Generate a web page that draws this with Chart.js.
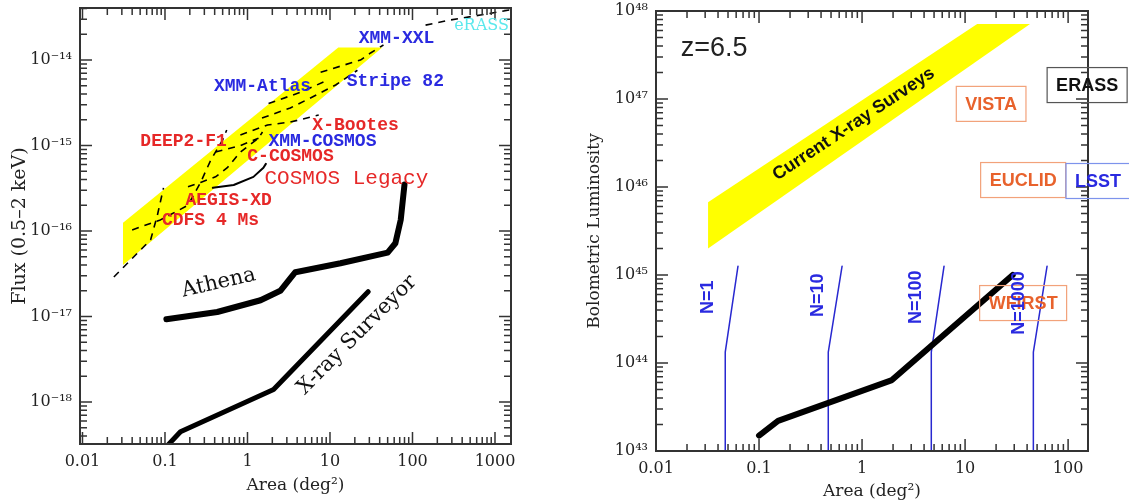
<!DOCTYPE html>
<html>
<head>
<meta charset="utf-8">
<script src="https://cdn.jsdelivr.net/npm/chart.js@4.4.1/dist/chart.umd.min.js"></script>
<style>
  body { margin: 0; background: #fff; }
  #wrap { position: relative; width: 1129px; height: 502px; }
  .panel { position: absolute; top: 0; height: 502px; }
  #left { left: 0; width: 540px; }
  #right { left: 560px; width: 569px; }
</style>
</head>
<body>
<div id="wrap">
  <div class="panel" id="left"><canvas id="fluxChart"></canvas></div>
  <div class="panel" id="right"><canvas id="lumChart"></canvas></div>
</div>
<script>
// ---------- left panel: flux limit (0.5-2 keV) vs area ----------
const currentSurveysBand = [[0.031, 4e-17], [0.031, 1.25e-16], [12.6, 1.4e-14], [43, 1.4e-14], [0.031, 4e-17]];

const athenaCurve = [[0.104, 9.3e-18], [0.43, 1.13e-17], [1.44, 1.55e-17], [2.5, 2.0e-17], [3.3, 2.8e-17],
  [3.8, 3.3e-17], [13.4, 4.2e-17], [50, 5.6e-17], [62, 7.2e-17], [72, 1.35e-16], [80, 3.5e-16]];
const surveyorCurve = [[0.104, 3.0e-19], [0.154, 4.5e-19], [1.75, 1.3e-18], [2.07, 1.4e-18], [29, 1.95e-17]];
const cosmosLegacyCurve = [[0.38, 3.2e-16], [0.68, 3.45e-16], [1.18, 4.3e-16], [1.56, 5.5e-16], [1.67, 6.1e-16]];

// dashed survey sensitivity curves
const cdfsCurve = [[0.024, 2.9e-17], [0.067, 7.9e-17], [0.081, 1.54e-16], [0.096, 3.2e-16]];
const deep2Curve = [[0.040, 1.03e-16], [0.088, 1.35e-16], [0.19, 2.0e-16], [0.27, 3.7e-16], [0.36, 6.8e-16], [0.50, 1.16e-15], [0.56, 1.52e-15]];
const cCosmosCurve = [[0.19, 3.3e-16], [0.27, 3.7e-16], [0.41, 4.3e-16], [0.57, 5.5e-16], [0.82, 8.4e-16], [1.36, 1.22e-15], [1.52, 1.44e-15]];
const xmmCosmosCurve = [[0.41, 8.4e-16], [0.82, 1.0e-15], [1.36, 1.22e-15]];
const xBootesCurve = [[0.82, 1.33e-15], [1.75, 1.74e-15], [3.3, 1.88e-15], [7.3, 2.27e-15]];
const xmmAtlasCurve = [[1.8, 3.1e-15], [4.4, 4.2e-15], [9.3, 5.8e-15]];
const stripe82Curve = [[1.5, 2.1e-15], [3.3, 2.75e-15], [5.8, 3.6e-15], [11.7, 5.1e-15], [21.5, 7.6e-15]];
const xxlCurve = [[7.7, 7.2e-15], [23.4, 1e-14], [31, 1.21e-14], [44.5, 1.5e-14]];
const erassCurve = [[144, 2.56e-14], [289, 2.94e-14], [667, 3.36e-14], [1500, 3.85e-14]];

const leftLabelText = ['XMM-XXL', 'eRASS', 'Stripe 82', 'XMM-Atlas', 'X-Bootes', 'XMM-COSMOS', 'DEEP2-F1',
  'C-COSMOS', 'COSMOS Legacy', 'AEGIS-XD', 'CDFS 4 Ms', 'Athena', 'X-ray Surveyor'];
const leftLabelArea = [64, 686, 62, 1.52, 20.4, 8.1, 0.168, 3.32, 15.8, 0.59, 0.356, 0.445, 20.9];
const leftLabelFlux = [1.86e-14, 2.56e-14, 5.8e-15, 5.1e-15, 1.74e-15, 1.16e-15, 1.16e-15, 7.74e-16, 4.28e-16, 2.31e-16, 1.35e-16, 2.53e-17, 6.2e-18];

// ---------- right panel: bolometric luminosity vs area, z=6.5 ----------
const lumBand = [[0.032, 2.0e45], [0.032, 6.7e45], [13.1, 7.1e47], [42.7, 7.1e47], [0.032, 2.0e45]];
const surveyorLum = [[0.1, 1.5e43], [0.153, 2.2e43], [1.95, 6.4e43], [29, 1e45]];
const nLine1 = [[0.047, 1e43], [0.047, 1.33e44], [0.0625, 1.26e45]];
const nLine10 = [[0.47, 1e43], [0.47, 1.33e44], [0.64, 1.26e45]];
const nLine100 = [[4.7, 1e43], [4.7, 1.33e44], [6.25, 1.26e45]];
const nLine1000 = [[46, 1e43], [46, 1.33e44], [62.5, 1.26e45]];

const rightLabelText = ['z=6.5', 'Current X-ray Surveys', 'VISTA', 'ERASS', 'EUCLID', 'LSST', 'WFIRST', 'N=1', 'N=10', 'N=100', 'N=1000'];
const rightLabelArea = [0.0366, 0.82, 17.9, 153, 36.6, 195, 36.6, 0.0313, 0.366, 3.27, 32.7];
const rightLabelLum = [3.8e47, 5.3e46, 8.8e46, 1.44e47, 1.2e46, 1.17e46, 4.8e44, 5.6e44, 5.9e44, 5.6e44, 4.8e44];

// ---------- styles ----------
const RED = '#e62828', BLUE = '#2a2ae0', CYAN = '#5ce8ec', ORANGE = '#e8622c';
const MONO = 'bold 18px "Liberation Mono"';
const leftLabelStyle = [
  {color: BLUE, font: MONO}, {color: CYAN, font: '16px "DejaVu Serif"'}, {color: BLUE, font: MONO},
  {color: BLUE, font: MONO}, {color: RED, font: MONO}, {color: BLUE, font: MONO}, {color: RED, font: MONO},
  {color: RED, font: MONO}, {color: RED, font: '21px "Liberation Mono"'}, {color: RED, font: MONO},
  {color: RED, font: MONO}, {color: '#111', font: '21px "DejaVu Serif"', rotate: -13},
  {color: '#111', font: '21px "DejaVu Serif"', rotate: -45}
];
const BOXFONT = 'bold 18px "Liberation Sans"';
const rightLabelStyle = [
  {color: '#222', font: '27px "Liberation Sans"'},
  {color: '#111', font: 'bold 18px "Liberation Sans"', rotate: -33.5},
  {color: ORANGE, font: BOXFONT, box: '#f2a27a'}, {color: '#111', font: BOXFONT, box: '#555'},
  {color: ORANGE, font: BOXFONT, box: '#f2a27a'}, {color: BLUE, font: BOXFONT, box: '#7d93ec'},
  {color: ORANGE, font: BOXFONT, box: '#f2a27a'},
  {color: BLUE, font: BOXFONT, rotate: -90}, {color: BLUE, font: BOXFONT, rotate: -90},
  {color: BLUE, font: BOXFONT, rotate: -90}, {color: BLUE, font: BOXFONT, rotate: -90}
];

const SUP = {'-': '⁻', '0': '⁰', '1': '¹', '2': '²', '3': '³', '4': '⁴', '5': '⁵', '6': '⁶', '7': '⁷', '8': '⁸', '9': '⁹'};
function isDecade(v) {
  const l = Math.log10(v);
  return Math.abs(l - Math.round(l)) < 1e-6;
}
function powLabel(v) {
  const e = Math.round(Math.log10(v));
  return '10' + String(e).split('').map(c => SUP[c]).join('');
}
function logTicks(min, max) {
  const out = [];
  for (let e = Math.floor(Math.log10(min)); e <= Math.ceil(Math.log10(max)); e++) {
    for (let m = 1; m < 10; m++) {
      const v = m * Math.pow(10, e);
      if (v >= min * 0.9999 && v <= max * 1.0001) out.push({value: v});
    }
  }
  return out;
}

function curve(points, color, width, dash) {
  return {
    data: points.map(p => ({x: p[0], y: p[1]})),
    showLine: true, borderColor: color, borderWidth: width, borderDash: dash || [],
    pointRadius: 0, fill: false, tension: 0, borderCapStyle: dash ? 'butt' : 'round', borderJoinStyle: 'round', order: 1
  };
}
function band(points) {
  return {
    data: points.map(p => ({x: p[0], y: p[1]})),
    showLine: true, borderColor: 'rgba(0,0,0,0)', borderWidth: 0, backgroundColor: '#ffff00',
    fill: 'shape', pointRadius: 0, tension: 0, order: 10
  };
}

// inward tick marks on all four sides plus the frame
const frameTicks = {
  id: 'frameTicks',
  afterDatasetsDraw(chart) {
    const {ctx, chartArea: a, scales: {x, y}} = chart;
    ctx.save();
    ctx.strokeStyle = '#333';
    ctx.lineWidth = 1.5;
    ctx.beginPath();
    x.ticks.forEach(t => {
      const px = x.getPixelForValue(t.value);
      if (px < a.left - 0.5 || px > a.right + 0.5) return;
      const len = isDecade(t.value) ? 12 : 7;
      ctx.moveTo(px, a.bottom); ctx.lineTo(px, a.bottom - len);
      ctx.moveTo(px, a.top); ctx.lineTo(px, a.top + len);
    });
    y.ticks.forEach(t => {
      const py = y.getPixelForValue(t.value);
      if (py < a.top - 0.5 || py > a.bottom + 0.5) return;
      const len = isDecade(t.value) ? 12 : 7;
      ctx.moveTo(a.left, py); ctx.lineTo(a.left + len, py);
      ctx.moveTo(a.right, py); ctx.lineTo(a.right - len, py);
    });
    ctx.stroke();
    ctx.lineWidth = 2;
    ctx.strokeRect(a.left, a.top, a.width, a.height);
    ctx.restore();
  }
};

function textMarks(texts, xs, ys, styles) {
  return {
    id: 'textMarks',
    afterDraw(chart) {
      const {ctx, scales: {x, y}} = chart;
      texts.forEach((text, i) => {
        const st = styles[i];
        ctx.save();
        ctx.translate(x.getPixelForValue(xs[i]), y.getPixelForValue(ys[i]));
        ctx.rotate((st.rotate || 0) * Math.PI / 180);
        ctx.font = st.font;
        ctx.textAlign = 'center';
        ctx.textBaseline = 'middle';
        if (st.box) {
          const w = ctx.measureText(text).width + 18;
          ctx.strokeStyle = st.box;
          ctx.lineWidth = 1.2;
          ctx.strokeRect(-w / 2, -17.5, w, 35);
        }
        ctx.fillStyle = st.color;
        ctx.fillText(text, 0, 1);
        ctx.restore();
      });
    }
  };
}

function axisOptions(min, max, size, labelFn, title, titleSize, titlePad) {
  return {
    type: 'logarithmic', min, max,
    afterBuildTicks: s => { s.ticks = logTicks(min, max); },
    afterFit: s => {
      if (s.isHorizontal()) s.height = size; else s.width = size;
      s.paddingTop = 0; s.paddingBottom = 0; s.paddingLeft = 0; s.paddingRight = 0;
    },
    grid: {display: false, drawTicks: false},
    border: {display: false},
    ticks: {
      autoSkip: false, maxRotation: 0, minRotation: 0, padding: 8, color: '#222',
      font: {family: 'DejaVu Serif', size: 16},
      callback: v => isDecade(v) ? labelFn(v) : ''
    },
    title: {display: true, text: title, color: '#222', font: {family: 'DejaVu Serif', size: titleSize}, padding: titlePad}
  };
}
const areaLabel = v => String(Number(v.toPrecision(1)));

new Chart(document.getElementById('fluxChart'), {
  type: 'scatter',
  data: {
    datasets: [
      curve(athenaCurve, '#000', 6),
      curve(surveyorCurve, '#000', 5),
      curve(cosmosLegacyCurve, '#000', 2),
      curve(cdfsCurve, '#000', 1.6, [7, 6]),
      curve(deep2Curve, '#000', 1.6, [7, 6]),
      curve(cCosmosCurve, '#000', 1.6, [7, 6]),
      curve(xmmCosmosCurve, '#000', 1.6, [7, 6]),
      curve(xBootesCurve, '#000', 1.6, [7, 6]),
      curve(xmmAtlasCurve, '#000', 1.6, [7, 6]),
      curve(stripe82Curve, '#000', 1.6, [7, 6]),
      curve(xxlCurve, '#000', 1.6, [7, 6]),
      curve(erassCurve, '#000', 1.6, [7, 6]),
      band(currentSurveysBand)
    ]
  },
  options: {
    responsive: true, maintainAspectRatio: false, animation: false,
    layout: {padding: {left: 0, top: 8, right: 29, bottom: 0}},
    plugins: {legend: {display: false}, tooltip: {enabled: false}},
    scales: {
      x: axisOptions(0.00933, 1563, 58, areaLabel, 'Area (deg²)', 17, {top: 0, bottom: 6}),
      y: axisOptions(3.23e-19, 4.06e-14, 80, powLabel, 'Flux (0.5–2 keV)', 19, {top: 9, bottom: 0})
    }
  },
  plugins: [frameTicks, textMarks(leftLabelText, leftLabelArea, leftLabelFlux, leftLabelStyle)]
});

new Chart(document.getElementById('lumChart'), {
  type: 'scatter',
  data: {
    datasets: [
      curve(surveyorLum, '#000', 6),
      curve(nLine1, '#2828d0', 1.5),
      curve(nLine10, '#2828d0', 1.5),
      curve(nLine100, '#2828d0', 1.5),
      curve(nLine1000, '#2828d0', 1.5),
      band(lumBand)
    ]
  },
  options: {
    responsive: true, maintainAspectRatio: false, animation: false,
    layout: {padding: {left: 0, top: 11, right: 41, bottom: 0}},
    plugins: {legend: {display: false}, tooltip: {enabled: false}},
    scales: {
      x: axisOptions(0.01, 156, 51, areaLabel, 'Area (deg²)', 17, {top: 0, bottom: 0}),
      y: axisOptions(1e43, 1e48, 96, powLabel, 'Bolometric Luminosity', 17, {top: 24, bottom: 0})
    }
  },
  plugins: [frameTicks, textMarks(rightLabelText, rightLabelArea, rightLabelLum, rightLabelStyle)]
});
</script>
</body>
</html>
